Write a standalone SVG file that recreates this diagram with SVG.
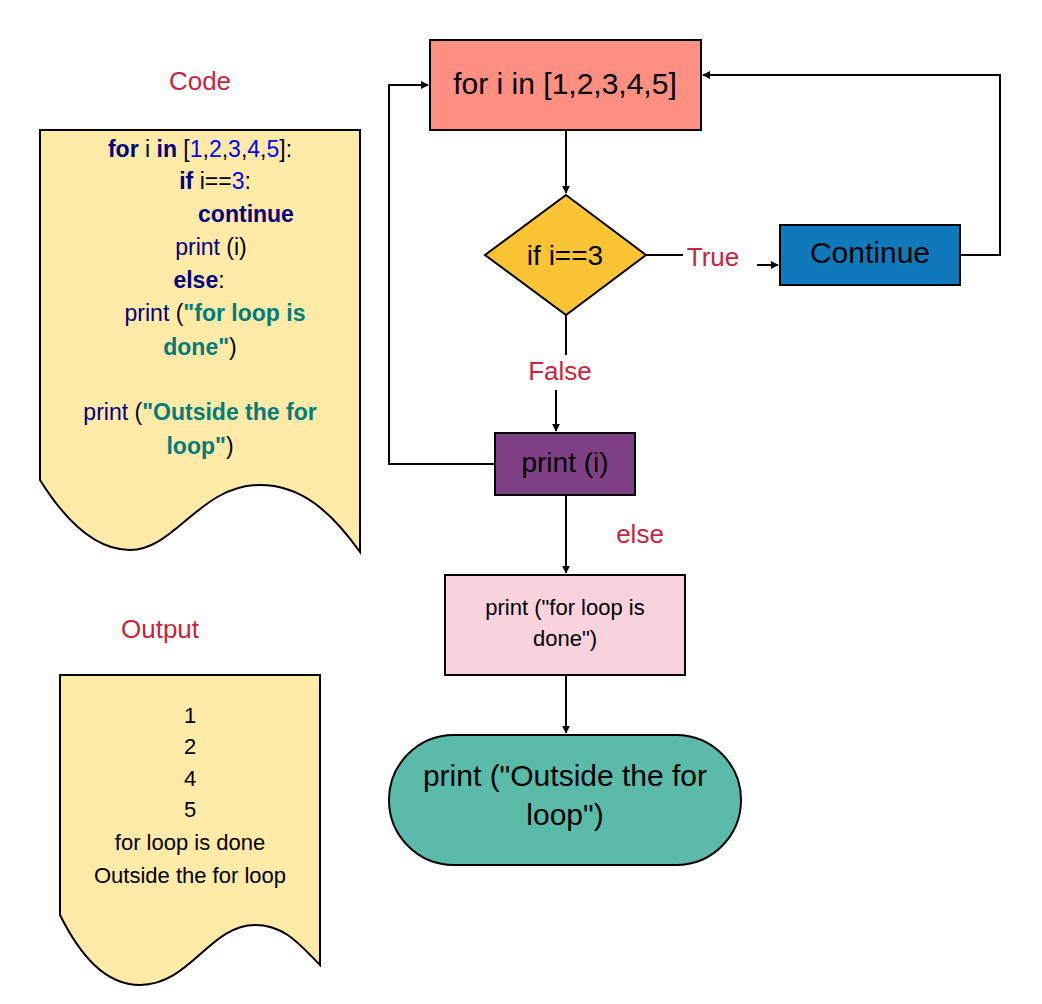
<svg xmlns="http://www.w3.org/2000/svg" width="1042" height="1004" viewBox="0 0 1042 1004">
<style>
text{font-family:"Liberation Sans",Arial,sans-serif;text-anchor:middle}
.n{stroke:#000;stroke-width:2}
.c{fill:none;stroke:#000;stroke-width:2}
.r{fill:#c7253b;font-size:26px}
.k{fill:#000080;font-weight:bold}
.p{fill:#000080}
.b{fill:#0000ff}
.s{fill:#007c7c;font-weight:bold}
</style>
<defs><marker id="a" viewBox="0 0 10 10" refX="9" refY="5" markerWidth="8" markerHeight="8" markerUnits="userSpaceOnUse" orient="auto"><path d="M0 0L10 5L0 10z" fill="#000"/></marker></defs>
<rect width="1042" height="1004" fill="#fff"/>
<text class="r" x="200" y="90">Code</text>
<text class="r" x="160" y="638">Output</text>
<g id="code">
<path class="n" d="M40 130H360V552C330 510 300 485 260 485C200 485 175 550 130 550C95 550 65 520 40 480Z" fill="#ffeaa7" stroke-width="1.5"/>
<g font-size="23">
<text x="200" y="157"><tspan class="k">for</tspan> i <tspan class="k">in</tspan> [<tspan class="b">1</tspan>,<tspan class="b">2</tspan>,<tspan class="b">3</tspan>,<tspan class="b">4</tspan>,<tspan class="b">5</tspan>]:</text>
<text x="215" y="189"><tspan class="k">if</tspan> i==<tspan class="b">3</tspan>:</text>
<text x="246" y="222" class="k">continue</text>
<text x="211" y="255"><tspan class="p">print</tspan> (i)</text>
<text x="199" y="288"><tspan class="k">else</tspan>:</text>
<text x="215" y="321"><tspan class="p">print</tspan> (<tspan class="s">"for loop is</tspan></text>
<text x="200" y="355"><tspan class="s">done"</tspan>)</text>
<text x="200" y="420"><tspan class="p">print</tspan> (<tspan class="s">"Outside the for</tspan></text>
<text x="200" y="454"><tspan class="s">loop"</tspan>)</text>
</g>
</g>
<g id="output">
<path class="n" d="M60 675H320V965C300 945 285 925 255 925C210 925 190 985 140 985C105 985 80 955 60 915Z" fill="#ffeaa7" stroke-width="1.5"/>
<g font-size="22">
<text x="190" y="723">1</text><text x="190" y="754">2</text><text x="190" y="786">4</text><text x="190" y="817">5</text>
<text x="190" y="850">for loop is done</text><text x="190" y="883">Outside the for loop</text>
</g>
</g>
<g id="connectors">
<path class="c" d="M566 130V193" marker-end="url(#a)"/>
<path class="c" d="M646 255H683"/>
<path class="c" d="M757 265H778" marker-end="url(#a)"/>
<path class="c" d="M960 255H1000V75H703" marker-end="url(#a)"/>
<path class="c" d="M566 315V355"/>
<path class="c" d="M556 390V431" marker-end="url(#a)"/>
<path class="c" d="M495 464H389V85H428" marker-end="url(#a)"/>
<path class="c" d="M566 495V573" marker-end="url(#a)"/>
<path class="c" d="M566 675V733" marker-end="url(#a)"/>
<text class="r" x="713" y="266">True</text>
<text class="r" x="560" y="380">False</text>
<text class="r" x="640" y="543">else</text>
</g>
<g id="for"><rect class="n" x="430" y="40" width="271" height="90" fill="#ff8f80"/><text x="565" y="94" font-size="30">for i in [1,2,3,4,5]</text></g>
<g id="if"><path class="n" d="M566 195L646 255L566 315L485 255Z" fill="#fbc435"/><text x="565" y="265" font-size="28">if i==3</text></g>
<g id="continue"><rect class="n" x="780" y="225" width="180" height="60" fill="#0e7abb"/><text x="870" y="263" font-size="30">Continue</text></g>
<g id="printi"><rect class="n" x="495" y="433" width="140" height="62" fill="#7f3f85"/><text x="565" y="472" font-size="28">print (i)</text></g>
<g id="done"><rect class="n" x="445" y="575" width="240" height="100" fill="#f8d3de" stroke-width="1.5"/><text x="565" y="615" font-size="22">print ("for loop is</text><text x="565" y="646" font-size="22">done")</text></g>
<g id="outside"><rect class="n" x="389" y="735" width="352" height="130" rx="65" fill="#5bbba9"/><text x="565" y="786" font-size="30">print ("Outside the for</text><text x="565" y="825" font-size="30">loop")</text></g>
</svg>
